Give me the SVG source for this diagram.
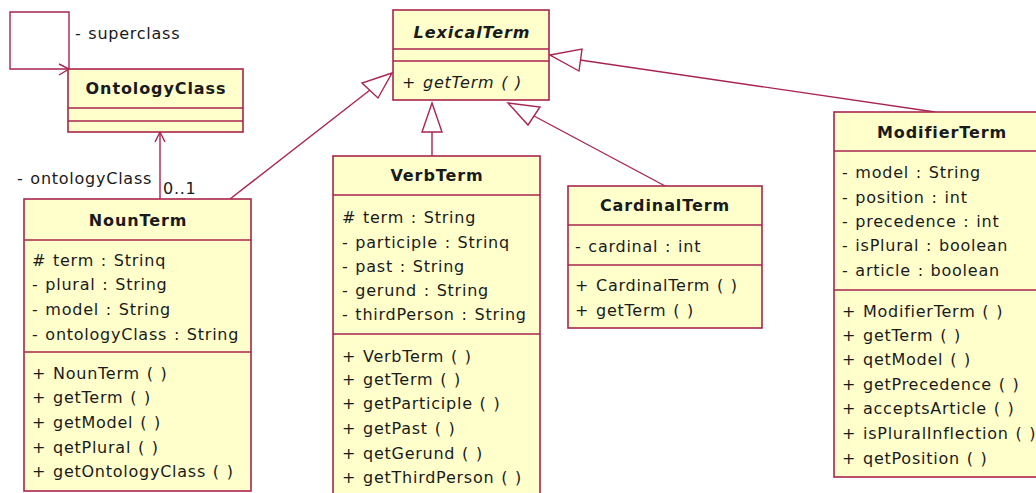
<svg xmlns="http://www.w3.org/2000/svg" width="1036" height="493" viewBox="0 0 1036 493">
  <defs>
    <style>
      .box { fill: #ffffcc; stroke: #a8254f; stroke-width: 1.6; }
      .div { stroke: #a8254f; stroke-width: 1.6; fill: none; }
      .edge { stroke: #a8254f; stroke-width: 1.4; fill: none; }
      .tri { stroke: #a8254f; stroke-width: 1.4; fill: #ffffff; }
      text { font-family: "DejaVu Sans", Verdana, sans-serif; font-size: 16px; fill: #1a1a1a; letter-spacing: 0.75px; word-spacing: 1px; }
      .title { font-weight: bold; text-anchor: middle; letter-spacing: 0.9px; }
      .abstract { font-style: italic; }
    </style>
  </defs>
  <rect width="1036" height="493" fill="#ffffff"/>

  <!-- connectors -->
  <g id="connectors">
    <!-- OntologyClass self association: superclass -->
    <polyline class="edge" points="69,69 69,12 10,12 10,69 69,69"/>
    <polyline class="edge" points="59,64 69,69 59,75"/>
    <text x="75" y="39">- superclass</text>

    <!-- NounTerm -> OntologyClass association -->
    <line class="edge" x1="160" y1="199" x2="160" y2="132"/>
    <polyline class="edge" points="155,142 160,132 165,142"/>
    <text x="17" y="184">- ontologyClass</text>
    <text x="163" y="194">0..1</text>

    <!-- NounTerm generalization -->
    <line class="edge" x1="230" y1="199" x2="370" y2="90"/>
    <polygon class="tri" points="392,73 362,83 378,98"/>

    <!-- VerbTerm generalization -->
    <line class="edge" x1="432" y1="156" x2="432" y2="132"/>
    <polygon class="tri" points="432,103 422,132 442,132"/>

    <!-- CardinalTerm generalization -->
    <line class="edge" x1="667" y1="187" x2="534" y2="116"/>
    <polygon class="tri" points="508,103 540,107 528,125"/>

    <!-- ModifierTerm generalization -->
    <line class="edge" x1="935" y1="112" x2="580" y2="60"/>
    <polygon class="tri" points="550,55 582,49 579,71"/>
  </g>

  <!-- LexicalTerm (abstract) -->
  <g id="LexicalTerm">
    <rect class="box" x="393" y="10" width="156" height="90"/>
    <line class="div" x1="393" y1="49" x2="549" y2="49"/>
    <line class="div" x1="393" y1="61" x2="549" y2="61"/>
    <text class="title abstract" x="472" y="38">LexicalTerm</text>
    <text class="abstract" x="402" y="88">+ getTerm ( )</text>
  </g>

  <!-- OntologyClass -->
  <g id="OntologyClass">
    <rect class="box" x="68" y="69" width="175" height="63"/>
    <line class="div" x1="68" y1="108" x2="243" y2="108"/>
    <line class="div" x1="68" y1="121" x2="243" y2="121"/>
    <text class="title" x="156" y="94">OntologyClass</text>
  </g>

  <!-- NounTerm -->
  <g id="NounTerm">
    <rect class="box" x="24" y="199" width="227" height="292"/>
    <line class="div" x1="24" y1="240" x2="251" y2="240"/>
    <line class="div" x1="24" y1="352" x2="251" y2="352"/>
    <text class="title" x="138" y="226">NounTerm</text>
    <text x="32" y="266"># term : Strinq</text>
    <text x="32" y="290">- plural : String</text>
    <text x="32" y="315">- model : String</text>
    <text x="32" y="340">- ontologyClass : String</text>
    <text x="32" y="379">+ NounTerm ( )</text>
    <text x="32" y="403">+ getTerm ( )</text>
    <text x="32" y="428">+ getModel ( )</text>
    <text x="32" y="453">+ qetPlural ( )</text>
    <text x="32" y="477">+ getOntologyClass ( )</text>
  </g>

  <!-- VerbTerm -->
  <g id="VerbTerm">
    <rect class="box" x="333" y="156" width="207" height="350"/>
    <line class="div" x1="333" y1="195" x2="540" y2="195"/>
    <line class="div" x1="333" y1="334" x2="540" y2="334"/>
    <text class="title" x="437" y="181">VerbTerm</text>
    <text x="342" y="223"># term : String</text>
    <text x="342" y="248">- participle : Strinq</text>
    <text x="342" y="272">- past : String</text>
    <text x="342" y="296">- gerund : String</text>
    <text x="342" y="320">- thirdPerson : String</text>
    <text x="342" y="362">+ VerbTerm ( )</text>
    <text x="342" y="385">+ getTerm ( )</text>
    <text x="342" y="409">+ getParticiple ( )</text>
    <text x="342" y="434">+ getPast ( )</text>
    <text x="342" y="459">+ qetGerund ( )</text>
    <text x="342" y="483">+ getThirdPerson ( )</text>
  </g>

  <!-- CardinalTerm -->
  <g id="CardinalTerm">
    <rect class="box" x="568" y="186" width="194" height="142"/>
    <line class="div" x1="568" y1="225" x2="762" y2="225"/>
    <line class="div" x1="568" y1="265" x2="762" y2="265"/>
    <text class="title" x="665" y="211">CardinalTerm</text>
    <text x="575" y="252">- cardinal : int</text>
    <text x="575" y="291">+ CardinalTerm ( )</text>
    <text x="575" y="316">+ getTerm ( )</text>
  </g>

  <!-- ModifierTerm -->
  <g id="ModifierTerm">
    <rect class="box" x="834" y="112" width="216" height="365"/>
    <line class="div" x1="834" y1="151" x2="1050" y2="151"/>
    <line class="div" x1="834" y1="290" x2="1050" y2="290"/>
    <text class="title" x="942" y="138">ModifierTerm</text>
    <text x="842" y="178">- model : String</text>
    <text x="842" y="203">- position : int</text>
    <text x="842" y="227">- precedence : int</text>
    <text x="842" y="251">- isPlural : boolean</text>
    <text x="842" y="276">- article : boolean</text>
    <text x="842" y="317">+ ModifierTerm ( )</text>
    <text x="842" y="341">+ getTerm ( )</text>
    <text x="842" y="365">+ qetModel ( )</text>
    <text x="842" y="390">+ getPrecedence ( )</text>
    <text x="842" y="414">+ acceptsArticle ( )</text>
    <text x="842" y="439">+ isPluralInflection ( )</text>
    <text x="842" y="464">+ qetPosition ( )</text>
  </g>
</svg>
